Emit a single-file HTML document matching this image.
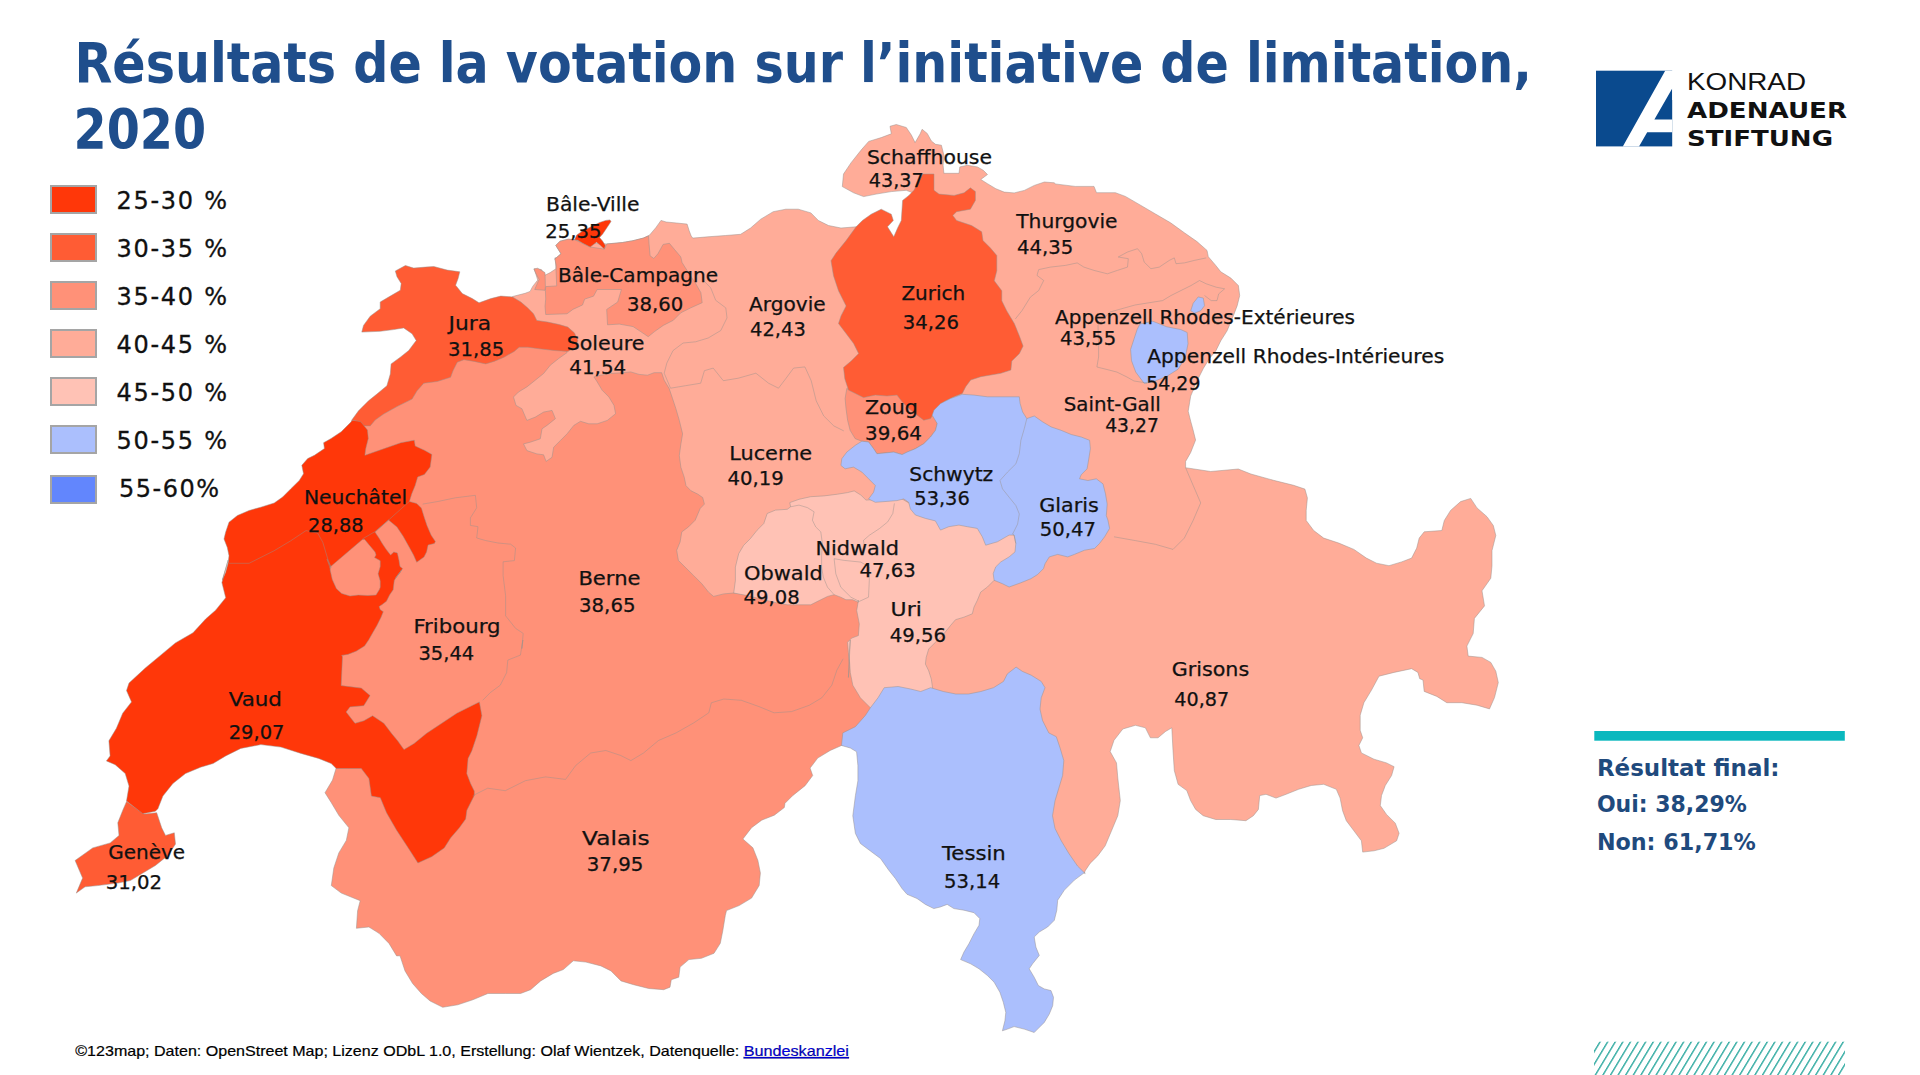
<!DOCTYPE html>
<html lang="fr"><head><meta charset="utf-8"><title>Résultats de la votation sur l’initiative de limitation, 2020</title>
<style>
html,body{margin:0;padding:0;background:#fff}
body{width:1920px;height:1075px;position:relative;overflow:hidden;font-family:"DejaVu Sans","Liberation Sans",sans-serif;}
svg{position:absolute;left:0;top:0}
.sw{position:absolute;left:50px;width:43.4px;height:24.6px;border:2.2px solid #a5a5a5}
</style></head><body>
<svg width="1920" height="1075" viewBox="0 0 1920 1075" style="position:absolute;left:0;top:0">
<path d="M512.6,296.5 L525.1,293.3 L530.1,291.4 L532.7,286.4 L537.7,280.1 L535.8,273.9 L533.9,268.8 L541.4,269.5 L545.2,275.1 L550.2,272.6 L555.9,268.8 L555.3,257.5 L554.8,259.0 L561.0,253.8 L555.8,245.4 L560.0,241.2 L568.3,239.2 L574.6,239.7 L590.2,243.3 L606.9,243.9 L614.2,243.3 L622.5,242.5 L632.9,240.7 L643.3,238.1 L649.6,235.0 L655.8,227.7 L661.0,220.4 L666.2,222.0 L676.7,223.0 L687.1,224.1 L689.2,230.8 L691.2,236.0 L692.8,238.1 L707.9,236.8 L725.5,235.5 L740.6,234.3 L750.6,228.0 L760.7,219.2 L773.2,211.7 L785.8,209.2 L798.3,209.2 L810.9,212.9 L818.4,220.5 L828.5,225.5 L841.0,228.0 L856.1,226.8 L871.2,233.0 L896.3,240.6 L903.8,225.5 L906.3,200.4 L912.6,192.8 L906.3,190.3 L891.3,191.6 L876.2,194.1 L863.6,196.6 L853.6,192.8 L842.3,186.6 L843.5,174.0 L851.1,162.7 L861.1,150.1 L868.7,141.4 L881.2,137.6 L891.3,133.8 L890.0,126.3 L896.3,124.5 L906.3,127.5 L911.4,135.1 L915.1,142.6 L920.2,133.8 L922.1,129.3 L927.2,133.4 L931.4,141.0 L935.5,144.3 L941.4,145.2 L943.9,155.2 L943.1,165.3 L943.9,173.3 L959.0,173.3 L959.8,166.9 L967.4,165.3 L977.4,166.9 L983.3,170.3 L987.5,174.5 L980.8,179.5 L987.5,183.7 L995.8,188.7 L1004.2,192.1 L1014.2,192.9 L1024.3,190.4 L1034.3,185.4 L1044.4,182.0 L1054.4,182.8 L1055.1,183.9 L1075.2,186.4 L1094.0,186.4 L1096.5,192.7 L1115.4,192.7 L1125.4,196.4 L1140.5,205.2 L1155.5,214.0 L1170.6,222.8 L1184.4,232.8 L1197.0,241.6 L1207.0,250.4 L1208.3,256.7 L1215.8,265.5 L1220.8,271.8 L1230.9,278.1 L1238.4,285.6 L1239.7,295.6 L1237.2,305.7 L1233.4,315.7 L1227.1,330.8 L1220.8,340.8 L1215.8,350.9 L1209.5,358.4 L1203.3,368.5 L1197.0,381.0 L1190.7,396.1 L1188.2,411.2 L1190.7,421.2 L1193.1,430.0 L1195.6,440.1 L1190.6,452.7 L1185.6,461.4 L1185.6,467.7 L1210.7,471.5 L1238.3,469.0 L1250.9,474.0 L1273.5,480.3 L1293.6,485.3 L1304.9,489.1 L1307.4,497.9 L1306.2,510.4 L1306.2,520.5 L1313.7,530.5 L1323.7,538.1 L1338.8,543.1 L1353.9,549.4 L1366.4,558.1 L1376.5,563.2 L1389.0,565.7 L1401.6,561.9 L1411.6,558.1 L1416.7,548.1 L1419.2,538.1 L1424.2,531.8 L1441.8,530.5 L1444.3,520.5 L1450.6,510.4 L1460.6,501.6 L1470.7,498.4 L1477.0,507.9 L1487.0,516.7 L1493.3,525.5 L1495.8,535.5 L1492.0,550.6 L1492.0,565.7 L1490.8,578.2 L1482.0,590.8 L1484.5,605.9 L1474.4,618.4 L1473.2,633.5 L1466.9,646.1 L1468.2,656.1 L1482.0,657.4 L1490.8,662.4 L1495.8,671.2 L1498.3,682.6 L1494.5,697.6 L1489.5,708.9 L1477.0,705.2 L1461.9,702.7 L1446.8,702.7 L1436.8,696.4 L1424.2,691.4 L1423.0,680.0 L1419.7,678.7 L1417.9,672.4 L1411.6,668.7 L1394.1,672.4 L1379.0,676.2 L1371.5,690.1 L1363.9,702.7 L1360.2,715.2 L1360.2,730.3 L1362.7,737.8 L1358.9,745.4 L1361.4,752.9 L1374.0,759.2 L1386.5,762.9 L1394.1,766.7 L1391.6,775.5 L1385.3,785.5 L1381.5,795.6 L1380.3,805.6 L1386.5,814.4 L1395.3,823.2 L1399.1,833.3 L1396.6,840.8 L1384.0,848.3 L1374.0,850.8 L1362.7,852.1 L1361.4,840.8 L1353.9,830.8 L1346.3,820.7 L1342.6,810.7 L1340.1,798.1 L1336.3,789.3 L1323.7,784.3 L1311.2,785.5 L1298.6,789.3 L1286.1,794.3 L1276.0,798.1 L1266.0,794.3 L1259.7,795.6 L1258.4,809.4 L1253.4,815.7 L1245.9,820.7 L1230.8,819.5 L1215.7,819.5 L1203.2,815.7 L1195.6,809.4 L1190.6,800.6 L1186.8,790.6 L1178.1,784.3 L1174.3,770.5 L1173.0,750.4 L1171.8,727.8 L1165.5,731.5 L1158.0,737.8 L1150.4,737.8 L1145.4,727.8 L1135.4,725.3 L1122.8,729.0 L1114.0,740.3 L1110.2,751.6 L1116.5,762.9 L1117.8,778.0 L1120.3,800.6 L1117.8,815.7 L1111.5,830.8 L1105.2,845.8 L1097.7,855.9 L1090.1,863.4 L1085.1,870.9 L1084.5,873.2 L1075.0,868.0 L950.0,750.0 L800.0,700.0 L650.0,620.0 L560.0,500.0 L460.0,400.0 L500.0,340.0Z" fill="#ffac98" stroke="#9a908c" stroke-opacity="0.55" stroke-width="0.9" stroke-linejoin="round"/>
<path d="M563.7,346.7 L567.1,352.6 L558.7,358.5 L550.3,365.2 L543.6,373.5 L535.3,380.2 L526.9,386.9 L518.5,392.0 L513.5,397.0 L516.0,405.4 L521.9,408.7 L526.9,420.4 L535.3,417.1 L543.6,412.1 L552.0,410.4 L555.4,418.7 L547.0,425.4 L542.0,428.8 L540.3,438.8 L530.2,442.2 L523.5,443.9 L526.9,450.6 L536.9,453.9 L543.6,454.8 L546.1,461.4 L552.0,457.3 L553.7,447.2 L560.4,440.5 L567.1,433.8 L573.8,425.4 L580.5,421.3 L588.8,423.8 L597.2,423.8 L607.3,420.4 L615.6,413.7 L614.0,405.4 L608.9,397.0 L602.2,390.3 L597.2,381.9 L593.9,376.9 L600.6,375.2 L610.6,373.5 L622.3,372.7 L630.7,371.9 L639.1,374.4 L647.5,375.2 L654.1,372.7 L661.7,372.7 L664.2,380.2 L669.2,388.6 L672.6,398.7 L675.9,408.7 L679.3,420.4 L682.6,433.8 L680.9,443.9 L679.3,455.6 L680.9,467.3 L684.3,477.4 L686.0,485.7 L691.0,490.8 L697.7,494.1 L702.7,497.5 L704.4,504.1 L700.2,508.5 L695.2,520.2 L688.5,526.9 L681.8,531.9 L680.1,542.0 L676.7,550.3 L678.4,560.4 L685.1,567.1 L693.5,575.4 L701.9,583.8 L708.6,592.2 L713.6,596.4 L723.6,593.9 L733.7,593.0 L800.0,600.0 L830.0,585.0 L870.0,590.0 L900.0,640.0 L880.0,720.0 L870.0,745.0 L841.5,745.5 L830.2,750.5 L817.7,758.1 L810.1,768.1 L812.7,775.6 L805.1,785.7 L792.6,795.7 L785.0,803.3 L784.3,807.6 L774.3,815.2 L761.7,820.2 L751.6,827.7 L742.9,839.0 L752.9,847.8 L757.9,860.4 L760.4,872.9 L759.2,885.5 L751.6,898.1 L739.1,905.6 L726.5,910.6 L725.3,915.6 L722.8,930.7 L720.3,943.3 L714.0,953.3 L701.4,958.3 L688.9,959.6 L680.1,967.1 L678.8,977.2 L671.3,979.7 L670.0,987.2 L663.7,989.7 L648.7,988.5 L633.6,984.7 L621.0,980.9 L611.0,970.9 L600.9,965.9 L585.9,962.1 L573.3,960.8 L563.3,969.6 L553.2,973.4 L540.7,980.9 L530.6,989.7 L520.6,993.5 L505.5,993.5 L487.9,993.5 L472.8,999.8 L457.8,1004.8 L442.7,1007.3 L430.1,1001.0 L421.4,993.5 L412.6,983.5 L405.0,970.9 L400.0,955.8 L396.6,955.9 L389.0,943.4 L379.0,933.3 L368.9,927.0 L356.4,928.3 L357.6,910.7 L360.2,900.7 L341.3,893.1 L331.3,885.6 L333.8,868.0 L338.8,852.9 L346.3,840.4 L348.9,827.8 L338.8,815.3 L331.3,802.7 L325.0,792.7 L332.5,780.1 L336.3,767.5 L340.0,700.0 L300.0,600.0 L340.0,500.0 L357.0,430.0 L365.0,415.0 L400.0,395.0 L440.0,375.0 L470.0,340.0Z" fill="#ff9178" stroke="#9a908c" stroke-opacity="0.55" stroke-width="0.9" stroke-linejoin="round"/>
<path d="M555.8,245.4 L561.0,253.8 L554.8,259.0 L556.4,266.2 L556.0,269.7 L556.7,285.9 L545.7,286.6 L545.4,290.3 L545.7,299.1 L545.0,306.4 L545.7,314.5 L567.0,313.8 L572.9,309.4 L582.5,305.0 L584.7,299.1 L593.5,296.2 L597.2,289.5 L621.4,289.5 L617.7,302.0 L606.7,309.4 L607.5,324.8 L619.3,324.1 L633.1,326.6 L640.7,331.6 L648.2,336.7 L654.5,331.6 L663.3,325.4 L673.3,320.3 L680.8,312.8 L690.9,307.8 L702.2,302.7 L700.9,292.7 L695.9,283.9 L688.4,272.6 L682.1,262.6 L680.8,256.9 L674.6,249.6 L669.4,243.3 L663.1,244.4 L657.9,253.8 L653.8,258.4 L650.1,255.8 L649.1,244.4 L648.5,236.0 L643.3,238.1 L632.9,240.7 L622.5,242.5 L614.2,243.3 L606.9,243.9 L604.3,249.1 L590.2,247.0 L574.6,239.7 L568.3,239.2 L560.0,241.2Z" fill="#ff9178" stroke="#9a908c" stroke-opacity="0.55" stroke-width="0.9" stroke-linejoin="round"/>
<path d="M534.0,269.0 L537.6,268.2 L545.0,272.6 L545.4,286.6 L545.0,290.3 L534.7,289.5 L536.9,284.4 L539.1,279.3 L536.2,274.1Z" fill="#ff9178" stroke="#9a908c" stroke-opacity="0.55" stroke-width="0.9" stroke-linejoin="round"/>
<path d="M846.8,388.4 L853.5,391.8 L863.5,395.1 L875.3,393.4 L887.0,394.3 L897.0,393.4 L902.1,400.1 L908.7,406.8 L917.1,413.5 L923.8,418.6 L930.5,417.7 L933.9,414.4 L937.2,423.6 L935.5,430.3 L930.5,437.0 L923.8,443.7 L915.4,448.7 L907.1,452.1 L902.1,454.6 L893.7,452.1 L885.3,452.9 L876.9,453.7 L873.6,448.7 L868.6,442.0 L861.9,441.2 L855.2,438.7 L850.1,430.3 L847.6,420.2 L846.0,408.5 L845.1,398.5Z" fill="#ff9178" stroke="#9a908c" stroke-opacity="0.55" stroke-width="0.9" stroke-linejoin="round"/>
<path d="M395.3,271.0 L405.4,265.5 L413.7,268.1 L425.4,267.1 L433.8,266.5 L447.2,270.1 L459.8,271.8 L458.1,278.5 L455.6,285.2 L462.3,293.6 L472.3,298.6 L479.0,302.8 L490.8,298.6 L500.8,296.1 L512.5,296.9 L520.9,302.0 L527.6,307.8 L533.5,313.7 L536.8,320.4 L547.7,322.1 L559.4,324.6 L567.8,327.1 L574.5,332.9 L577.8,340.5 L576.2,347.2 L567.8,351.4 L554.4,350.5 L539.3,348.8 L527.6,347.2 L519.2,347.2 L514.2,351.4 L504.1,357.2 L494.1,361.4 L485.7,363.9 L474.0,361.4 L464.0,359.7 L457.3,362.2 L453.1,370.6 L450.6,377.3 L437.2,381.5 L423.8,383.2 L417.1,390.7 L412.1,399.1 L397.0,406.6 L383.6,414.1 L375.2,420.0 L370.2,425.9 L350.1,425.9 L351.8,420.0 L358.5,410.8 L368.5,400.8 L376.9,394.1 L386.9,385.7 L390.3,374.0 L391.1,363.9 L400.3,357.2 L408.7,350.5 L416.2,340.5 L412.1,333.8 L403.7,327.9 L393.6,329.6 L380.2,331.3 L361.8,332.1 L363.5,325.4 L370.2,316.2 L380.2,308.7 L380.2,302.0 L390.3,296.1 L400.3,290.2 L401.2,283.5 L397.0,276.8Z" fill="#ff5c34" stroke="#9a908c" stroke-opacity="0.55" stroke-width="0.9" stroke-linejoin="round"/>
<path d="M856.1,226.8 L862.4,220.5 L871.2,214.2 L881.2,209.2 L891.3,214.2 L893.3,220.5 L887.5,226.8 L893.8,236.8 L897.6,228.0 L901.3,220.5 L902.6,200.4 L908.9,195.4 L913.9,190.3 L922.7,174.0 L934.0,174.0 L934.0,190.3 L939.0,194.1 L954.1,195.4 L964.1,192.8 L970.4,187.8 L975.4,191.6 L975.4,200.4 L970.4,209.2 L956.6,211.7 L952.8,215.4 L956.6,220.5 L971.6,225.5 L981.7,231.8 L983.0,240.6 L990.5,248.1 L996.8,255.6 L996.8,270.7 L994.3,280.8 L1001.8,290.8 L1001.8,300.8 L1006.8,310.9 L1014.3,323.5 L1019.4,336.0 L1023.1,346.1 L1019.4,353.6 L1011.8,361.1 L1010.9,370.0 L1000.8,373.3 L990.8,375.0 L980.8,376.7 L970.7,380.0 L965.7,386.7 L962.3,393.4 L954.0,396.8 L943.9,401.8 L935.5,410.2 L930.5,418.6 L923.8,420.2 L917.1,415.2 L908.7,408.5 L902.1,401.8 L897.0,395.1 L887.0,396.0 L875.3,395.1 L863.5,397.6 L848.5,390.1 L844.8,378.7 L843.5,367.4 L851.1,361.1 L858.6,353.6 L853.6,343.5 L846.1,333.5 L838.5,323.5 L841.0,315.9 L846.1,305.9 L838.5,290.8 L833.5,275.7 L831.0,260.7 L836.0,253.1 L846.1,240.6Z" fill="#ff5c34" stroke="#9a908c" stroke-opacity="0.55" stroke-width="0.9" stroke-linejoin="round"/>
<path d="M126.6,801.4 L144.1,814.0 L156.7,812.7 L161.7,827.8 L165.5,835.4 L174.3,832.8 L175.5,844.1 L168.0,855.4 L155.4,865.5 L142.9,873.0 L130.3,880.6 L117.8,883.1 L97.7,885.6 L85.1,886.8 L76.3,893.1 L82.6,878.1 L75.1,860.5 L92.7,847.9 L110.2,842.9 L119.0,835.4 L117.8,822.8 L122.8,810.2Z" fill="#ff5c34" stroke="#9a908c" stroke-opacity="0.55" stroke-width="0.9" stroke-linejoin="round"/>
<path d="M352.9,420.1 L341.2,431.8 L331.1,438.5 L323.6,442.7 L324.4,448.6 L314.4,455.3 L307.7,458.6 L301.8,465.3 L303.5,473.7 L299.3,480.4 L290.9,488.7 L282.6,497.1 L274.2,503.0 L260.8,507.2 L249.1,510.5 L237.4,515.5 L229.0,522.2 L225.6,532.3 L224.0,539.0 L227.3,547.4 L229.0,555.7 L228.1,563.3 L225.6,572.5 L222.3,580.0 L228.2,560.0 L221.9,582.6 L225.7,597.7 L215.6,610.2 L205.6,619.0 L193.0,632.8 L175.4,642.9 L160.4,655.4 L145.3,668.0 L129.0,683.1 L126.5,690.6 L131.5,701.9 L122.7,713.2 L116.4,728.3 L108.9,740.8 L110.1,755.9 L106.4,760.9 L115.2,764.7 L125.2,773.5 L129.0,786.1 L126.5,801.1 L142.8,813.7 L155.4,811.2 L157.9,808.7 L162.9,796.1 L172.9,783.5 L185.5,773.5 L200.6,767.2 L213.1,763.5 L225.7,755.9 L240.8,748.4 L260.8,744.6 L280.9,747.1 L301.0,753.4 L318.6,758.4 L331.2,763.5 L336.2,768.5 L348.8,768.5 L361.3,768.5 L368.9,778.5 L371.4,796.1 L380.3,797.7 L386.5,812.7 L396.6,830.3 L406.6,845.4 L417.9,863.0 L431.7,856.7 L444.3,847.9 L450.6,837.9 L459.4,827.8 L465.7,819.0 L466.9,810.2 L474.4,795.2 L474.3,791.1 L470.6,783.5 L466.8,773.5 L468.1,758.4 L471.8,750.9 L476.9,735.8 L481.9,715.7 L479.4,701.9 L471.8,705.7 L456.8,713.2 L441.7,723.3 L426.6,733.3 L414.1,743.4 L404.0,749.6 L397.7,740.8 L391.5,733.3 L383.9,723.3 L372.6,715.7 L363.8,720.8 L355.0,723.3 L346.2,712.0 L350.0,706.9 L363.8,705.7 L370.1,695.6 L361.3,688.1 L341.2,685.6 L342.5,656.7 L341.7,655.4 L347.9,654.4 L356.2,651.2 L364.6,646.0 L368.8,639.8 L372.9,632.5 L377.1,625.2 L381.2,616.9 L383.3,611.7 L380.2,609.6 L379.2,606.5 L382.3,604.4 L386.5,601.2 L389.6,595.0 L393.2,589.8 L394.3,580.4 L396.9,576.2 L401.6,570.0 L395.8,577.9 L400.0,572.7 L402.6,568.5 L400.0,566.5 L399.0,560.2 L397.4,552.9 L393.8,551.9 L390.6,555.0 L386.5,549.8 L382.3,543.5 L379.2,538.3 L375.0,532.1 L388.5,520.1 L396.9,526.9 L403.1,536.2 L408.3,545.6 L413.5,555.0 L416.7,562.3 L424.0,557.1 L426.6,551.9 L428.1,545.1 L434.4,543.5 L435.4,541.5 L431.2,535.2 L427.1,525.8 L424.0,516.5 L421.4,508.1 L416.7,503.4 L409.4,501.4 L411.8,493.8 L415.2,485.4 L417.7,477.0 L424.4,474.5 L430.2,467.0 L431.9,454.4 L424.4,450.2 L415.2,446.0 L414.3,440.2 L400.9,442.7 L384.2,448.6 L364.9,455.3 L365.8,448.6 L368.3,438.5 L367.5,430.1 L360.8,421.8 L352.4,420.1Z" fill="#ff3709" stroke="#9a908c" stroke-opacity="0.55" stroke-width="0.9" stroke-linejoin="round"/>
<path d="M330.2,567.0 L362.5,539.4 L364.6,539.4 L368.8,544.6 L375.0,551.9 L376.0,555.0 L374.5,557.6 L380.2,560.7 L380.2,566.5 L378.1,573.8 L380.2,581.0 L380.2,587.3 L379.2,589.8 L376.0,595.0 L367.7,595.5 L358.3,595.0 L350.0,596.0 L341.7,593.4 L336.5,588.8 L332.3,579.4 L330.2,570.0Z" fill="#ff9178" stroke="#9a908c" stroke-opacity="0.55" stroke-width="0.9" stroke-linejoin="round"/>
<path d="M610.0,219.9 L611.0,221.5 L606.9,227.7 L602.7,234.0 L599.6,237.6 L602.7,241.2 L605.3,245.4 L604.3,249.1 L600.6,245.4 L596.5,242.3 L590.2,247.0 L582.9,243.3 L577.7,240.2 L574.6,239.7 L576.7,235.0 L582.9,230.8 L591.2,226.7 L599.6,222.5 L605.8,220.4Z" fill="#ff3709" stroke="#9a908c" stroke-opacity="0.55" stroke-width="0.9" stroke-linejoin="round"/>
<path d="M733.7,593.0 L735.4,580.5 L735.4,567.1 L738.7,553.7 L743.7,545.3 L750.4,538.6 L757.1,530.2 L763.8,523.5 L767.2,513.5 L775.5,510.1 L787.3,509.3 L790.6,506.8 L789.8,502.6 L799.0,499.3 L810.7,496.7 L824.1,495.9 L837.5,494.2 L847.5,492.6 L854.2,490.9 L860.9,495.1 L866.0,500.1 L877.7,499.3 L891.1,500.1 L901.1,498.4 L909.5,503.4 L912.9,510.1 L922.9,513.5 L932.9,518.5 L943.0,525.2 L950.0,515.0 L975.0,515.0 L985.7,541.8 L997.4,538.5 L1009.1,531.8 L1017.5,533.4 L1019.2,543.5 L1017.5,553.5 L1009.1,560.2 L1000.8,565.3 L997.4,573.6 L997.4,580.3 L994.1,580.3 L987.4,587.0 L980.7,592.1 L977.3,600.4 L974.0,607.1 L972.3,613.8 L963.9,617.2 L955.5,619.7 L950.5,625.5 L943.8,633.9 L935.4,642.3 L928.7,649.0 L926.2,657.4 L925.4,664.1 L928.7,670.8 L931.3,679.1 L932.9,690.0 L932.0,690.2 L905.6,697.8 L875.4,710.3 L870.4,707.8 L860.4,697.8 L852.8,685.2 L850.3,672.7 L849.1,655.1 L850.3,640.0 L848.4,677.5 L849.2,664.1 L848.4,652.3 L847.5,642.3 L851.7,638.1 L858.4,635.6 L859.3,623.9 L856.7,610.5 L858.4,600.4 L858.4,602.2 L852.6,599.7 L845.9,599.7 L840.8,597.2 L834.1,594.7 L827.5,596.4 L819.1,600.6 L810.7,604.8 L799.0,604.8 L787.3,604.8 L773.9,602.2 L760.5,598.9 L747.1,595.5Z" fill="#ffc2b5" stroke="#9a908c" stroke-opacity="0.55" stroke-width="0.9" stroke-linejoin="round"/>
<path d="M933.9,410.2 L940.6,403.5 L950.6,398.5 L962.3,394.3 L974.1,395.1 L987.5,396.8 L1004.2,396.8 L1019.3,396.8 L1020.1,403.5 L1022.6,411.9 L1026.8,418.6 L1034.3,416.0 L1042.7,421.9 L1051.1,426.9 L1061.1,430.3 L1071.2,434.5 L1081.2,437.0 L1089.6,440.3 L1090.4,448.7 L1088.8,458.7 L1087.1,468.8 L1081.2,474.7 L1079.5,478.8 L1087.9,480.5 L1096.3,478.8 L1103.0,483.9 L1105.5,493.9 L1107.2,504.0 L1106.3,515.7 L1107.9,520.0 L1109.6,528.4 L1104.6,536.8 L1099.5,543.5 L1094.5,548.5 L1084.5,550.2 L1074.4,554.4 L1067.7,556.9 L1057.7,554.4 L1049.3,556.9 L1045.1,563.6 L1043.5,568.6 L1037.6,574.5 L1030.9,578.7 L1020.8,582.8 L1009.1,587.0 L1002.4,583.7 L994.1,580.3 L993.2,573.6 L995.7,566.9 L1000.8,561.9 L1009.1,556.9 L1015.0,551.9 L1015.8,543.5 L1014.1,535.1 L1009.1,535.1 L997.4,541.8 L985.7,545.2 L982.3,536.8 L977.3,528.4 L967.3,526.7 L958.9,525.1 L948.8,526.7 L940.5,530.1 L935.4,520.9 L925.4,518.4 L915.4,515.0 L910.4,509.0 L908.7,502.3 L903.7,498.9 L897.0,500.6 L887.0,501.4 L875.3,502.3 L868.6,498.9 L873.6,492.2 L875.3,485.5 L868.6,478.8 L861.9,472.1 L853.5,467.1 L845.1,468.8 L840.9,465.4 L841.8,458.7 L846.8,452.1 L855.2,445.4 L861.9,441.2 L868.6,442.0 L873.6,448.7 L876.9,453.7 L885.3,452.9 L893.7,452.1 L902.1,454.6 L907.1,452.1 L915.4,448.7 L923.8,443.7 L930.5,437.0 L935.5,430.3 L937.2,423.6 L932.2,415.2Z" fill="#abbffd" stroke="#9a908c" stroke-opacity="0.55" stroke-width="0.9" stroke-linejoin="round"/>
<path d="M884.2,687.7 L898.1,686.5 L910.6,689.0 L920.7,691.5 L930.7,687.7 L943.3,691.5 L955.8,694.0 L968.4,694.0 L980.9,691.5 L993.5,687.7 L1003.5,681.4 L1007.3,673.9 L1016.1,667.1 L1022.4,671.4 L1031.2,675.2 L1041.2,681.4 L1045.0,687.7 L1041.2,697.8 L1040.0,709.1 L1042.5,720.4 L1048.8,732.9 L1056.3,736.7 L1060.1,748.0 L1063.8,760.6 L1062.6,775.6 L1058.8,788.2 L1055.0,800.8 L1052.5,815.8 L1055.0,828.4 L1061.3,840.9 L1068.9,853.5 L1077.6,866.1 L1085.2,873.6 L1084.5,872.6 L1074.4,880.1 L1064.4,890.1 L1057.7,900.2 L1056.8,910.2 L1054.3,920.3 L1047.6,927.0 L1039.3,932.0 L1034.2,937.0 L1035.9,947.1 L1039.3,955.4 L1032.6,963.8 L1029.2,968.8 L1034.2,977.2 L1038.4,985.6 L1044.3,988.9 L1051.0,990.6 L1053.5,997.3 L1052.7,1005.7 L1049.3,1014.1 L1044.3,1022.4 L1037.6,1029.1 L1034.2,1032.5 L1024.2,1029.1 L1014.1,1026.6 L1007.5,1029.1 L1002.4,1030.8 L1004.9,1020.8 L1005.8,1012.4 L1003.3,1002.3 L999.9,992.3 L994.1,982.2 L987.4,975.5 L979.0,968.8 L970.6,963.8 L960.6,959.6 L963.9,952.1 L968.9,943.7 L974.0,933.7 L979.0,925.3 L979.8,918.6 L974.0,912.7 L963.9,910.2 L953.9,908.6 L947.2,904.4 L940.5,906.9 L933.8,908.6 L925.4,904.4 L917.0,898.5 L907.0,894.3 L902.0,888.5 L895.3,878.4 L888.6,870.0 L880.5,858.5 L870.4,851.0 L860.4,843.5 L855.4,833.4 L852.8,815.8 L855.4,795.7 L857.9,780.7 L857.9,765.6 L856.6,751.8 L850.3,748.0 L841.5,745.5 L842.8,732.9 L855.4,726.7 L865.4,715.4 L870.4,707.8 L878.0,697.8Z" fill="#abbffd" stroke="#9a908c" stroke-opacity="0.55" stroke-width="0.9" stroke-linejoin="round"/>
<path d="M1139.9,324.0 L1152.7,321.2 L1166.8,326.8 L1180.9,329.6 L1187.2,332.5 L1188.0,343.8 L1185.2,357.9 L1178.1,369.2 L1166.8,376.3 L1152.7,381.9 L1144.2,383.4 L1135.7,372.0 L1131.5,360.7 L1130.6,349.4 L1134.3,338.1 L1137.1,329.6Z" fill="#abbffd" stroke="#9a908c" stroke-opacity="0.55" stroke-width="0.9" stroke-linejoin="round"/>
<path d="M1198.2,296.9 L1203.3,298.1 L1204.5,305.7 L1200.8,310.7 L1194.5,313.2 L1190.7,310.7 L1193.2,303.2Z" fill="#abbffd" stroke="#9a908c" stroke-opacity="0.55" stroke-width="0.9" stroke-linejoin="round"/>
<path d="M229.0,563.3 L249.1,563.3 L274.2,550.7 L290.9,540.7 L306.0,530.6 L317.7,533.1 L322.8,542.3 L327.8,559.1 L331.1,567.5 L327.1,559.2 L330.2,568.5" fill="none" stroke="#9a908c" stroke-opacity="0.5" stroke-width="0.9" stroke-linejoin="round"/>
<path d="M362.5,538.9 L375.0,531.6 L388.5,520.1 L409.4,501.4" fill="none" stroke="#9a908c" stroke-opacity="0.5" stroke-width="0.9" stroke-linejoin="round"/>
<path d="M1026.8,418.6 L1024.3,428.6 L1020.9,440.3 L1019.3,453.7 L1015.9,463.8 L1007.5,472.1 L1000.0,480.5 L1002.5,488.9 L1009.2,497.3 L1015.9,505.6 L1019.3,514.0 L1017.6,524.1 L1012.6,534.1 L1014.1,535.1 L1015.8,543.5" fill="none" stroke="#9a908c" stroke-opacity="0.5" stroke-width="0.9" stroke-linejoin="round"/>
<path d="M703.2,280.2 L710.7,287.8 L715.7,300.3 L725.8,307.9 L727.0,317.9 L720.8,330.5 L708.2,338.0 L695.6,341.8 L683.1,343.0 L673.0,350.6 L666.8,363.1 L664.2,373.2 L670.5,388.2" fill="none" stroke="#9a908c" stroke-opacity="0.5" stroke-width="0.9" stroke-linejoin="round"/>
<path d="M670.5,388.2 L685.6,385.7 L700.7,383.2 L704.4,370.7 L713.2,368.1 L723.3,380.7 L738.3,378.2 L755.9,373.2 L768.5,383.2 L778.5,388.2 L786.1,378.2 L793.6,368.1 L804.9,366.9 L811.2,380.7 L816.2,400.8 L823.7,415.9 L833.8,425.9 L843.8,430.9" fill="none" stroke="#9a908c" stroke-opacity="0.5" stroke-width="0.9" stroke-linejoin="round"/>
<path d="M1015.3,319.0 L1022.0,310.6 L1030.3,297.2 L1038.7,290.5 L1043.7,280.5 L1037.0,275.4 L1038.7,269.6 L1050.4,267.1 L1065.5,265.4 L1077.2,262.9 L1083.9,267.1 L1094.0,270.4 L1107.4,273.8 L1117.4,270.4 L1127.5,267.1 L1128.3,258.7 L1118.2,257.0 L1127.5,252.0 L1137.5,248.7 L1141.7,253.7 L1144.2,262.1 L1150.9,268.7 L1159.3,267.1 L1169.3,260.4 L1174.3,257.9 L1176.0,263.7 L1184.4,262.9 L1194.4,260.4 L1206.2,257.9" fill="none" stroke="#9a908c" stroke-opacity="0.5" stroke-width="0.9" stroke-linejoin="round"/>
<path d="M1147.0,383.0 L1134.0,381.0 L1127.1,377.1 L1117.0,372.1 L1107.0,369.5 L1096.9,367.0 L1098.6,357.0 L1098.6,345.3 L1098.0,325.0 L1110.0,312.0 L1135.0,305.0 L1162.6,300.6 L1171.0,295.5 L1181.0,290.5 L1191.1,285.5 L1199.5,280.5 L1206.2,283.8 L1216.2,287.2 L1224.6,288.8 L1218.7,293.9 L1217.0,300.6 L1211.2,300.6 L1204.5,295.5" fill="none" stroke="#9a908c" stroke-opacity="0.5" stroke-width="0.9" stroke-linejoin="round"/>
<path d="M1185.6,467.7 L1193.1,485.3 L1200.7,502.9 L1193.1,520.5 L1184.3,538.1 L1173.0,549.4 L1155.4,544.3 L1135.4,540.6 L1114.0,536.8" fill="none" stroke="#9a908c" stroke-opacity="0.5" stroke-width="0.9" stroke-linejoin="round"/>
<path d="M422.7,504.1 L437.8,501.5 L455.4,497.8 L475.4,495.3 L476.7,507.8 L470.4,517.9 L470.4,525.4 L478.0,526.7 L476.7,538.0 L485.5,540.5 L498.1,543.0 L510.6,544.2 L515.6,548.0 L514.4,560.6 L503.1,561.8 L503.1,575.6 L505.6,595.7 L505.6,615.8 L515.6,628.4 L523.2,633.4 L521.9,648.5 L522.9,640.0 L520.4,655.1 L507.8,660.1 L506.6,672.7 L500.3,685.2 L490.2,692.7 L482.7,700.3" fill="none" stroke="#9a908c" stroke-opacity="0.5" stroke-width="0.9" stroke-linejoin="round"/>
<path d="M472.7,795.7 L487.7,788.2 L505.3,790.7 L525.4,780.7 L545.5,776.9 L565.6,779.4 L575.6,765.6 L590.7,753.0 L605.8,750.5 L620.8,755.5 L630.9,760.6 L643.5,753.0 L658.5,740.5 L676.1,732.9 L693.7,722.9 L708.8,712.8 L711.3,702.8 L723.8,699.0 L741.4,700.3 L759.0,706.6 L774.1,712.8 L791.6,711.6 L809.2,705.3 L821.8,697.8 L831.8,685.2 L836.9,670.1 L843.1,658.8" fill="none" stroke="#9a908c" stroke-opacity="0.5" stroke-width="0.9" stroke-linejoin="round"/>
<path d="M790.6,506.8 L799.0,505.1 L807.4,507.6 L814.1,511.8 L812.4,520.2 L815.7,526.9 L820.8,531.9 L822.4,543.6 L821.6,555.4 L821.6,567.1 L823.3,577.1 L827.5,587.2 L834.1,594.7" fill="none" stroke="#9a908c" stroke-opacity="0.5" stroke-width="0.9" stroke-linejoin="round"/>
<path d="M894.4,503.4 L892.8,513.5 L887.7,521.9 L879.4,528.6 L869.3,535.3 L863.5,540.3 L864.3,547.0" fill="none" stroke="#9a908c" stroke-opacity="0.5" stroke-width="0.9" stroke-linejoin="round"/>
<path d="M834.1,558.7 L844.2,560.4 L860.9,562.1 L869.3,567.1 L869.3,580.5 L868.5,597.2 L859.3,601.4 L850.9,597.2 L840.8,587.2 L835.8,573.8 L834.1,558.7" fill="none" stroke="#9a908c" stroke-opacity="0.5" stroke-width="0.9" stroke-linejoin="round"/>
<g font-family="'DejaVu Sans','Liberation Sans',sans-serif" font-size="18.8" fill="#111" stroke="#111" stroke-width="0.25">
<text x="546.0" y="211.4" textLength="93.5" lengthAdjust="spacingAndGlyphs">Bâle-Ville</text>
<text x="545.2" y="237.8" textLength="56.2" lengthAdjust="spacingAndGlyphs">25,35</text>
<text x="558.0" y="281.8" textLength="160.2" lengthAdjust="spacingAndGlyphs">Bâle-Campagne</text>
<text x="626.9" y="310.7" textLength="56.3" lengthAdjust="spacingAndGlyphs">38,60</text>
<text x="448.5" y="330.0" textLength="42.5" lengthAdjust="spacingAndGlyphs">Jura</text>
<text x="448.0" y="355.9" textLength="56.2" lengthAdjust="spacingAndGlyphs">31,85</text>
<text x="566.7" y="349.6" textLength="77.8" lengthAdjust="spacingAndGlyphs">Soleure</text>
<text x="569.3" y="373.5" textLength="56.9" lengthAdjust="spacingAndGlyphs">41,54</text>
<text x="749.0" y="310.5" textLength="76.7" lengthAdjust="spacingAndGlyphs">Argovie</text>
<text x="750.0" y="335.7" textLength="55.8" lengthAdjust="spacingAndGlyphs">42,43</text>
<text x="866.9" y="164.0" textLength="125.1" lengthAdjust="spacingAndGlyphs">Schaffhouse</text>
<text x="868.7" y="187.3" textLength="55.0" lengthAdjust="spacingAndGlyphs">43,37</text>
<text x="901.4" y="300.4" textLength="63.8" lengthAdjust="spacingAndGlyphs">Zurich</text>
<text x="902.7" y="329.0" textLength="56.2" lengthAdjust="spacingAndGlyphs">34,26</text>
<text x="1016.2" y="228.0" textLength="101.3" lengthAdjust="spacingAndGlyphs">Thurgovie</text>
<text x="1016.9" y="254.4" textLength="56.3" lengthAdjust="spacingAndGlyphs">44,35</text>
<text x="1055.0" y="323.8" textLength="300.0" lengthAdjust="spacingAndGlyphs">Appenzell Rhodes-Extérieures</text>
<text x="1060.1" y="345.4" textLength="56.1" lengthAdjust="spacingAndGlyphs">43,55</text>
<text x="1147.2" y="363.0" textLength="297.0" lengthAdjust="spacingAndGlyphs">Appenzell Rhodes-Intérieures</text>
<text x="1146.2" y="389.9" textLength="54.3" lengthAdjust="spacingAndGlyphs">54,29</text>
<text x="1063.7" y="410.5" textLength="97.1" lengthAdjust="spacingAndGlyphs">Saint-Gall</text>
<text x="1105.2" y="432.0" textLength="53.7" lengthAdjust="spacingAndGlyphs">43,27</text>
<text x="1171.7" y="676.3" textLength="77.5" lengthAdjust="spacingAndGlyphs">Grisons</text>
<text x="1174.3" y="706.4" textLength="54.9" lengthAdjust="spacingAndGlyphs">40,87</text>
<text x="942.0" y="859.8" textLength="63.8" lengthAdjust="spacingAndGlyphs">Tessin</text>
<text x="944.0" y="887.5" textLength="56.2" lengthAdjust="spacingAndGlyphs">53,14</text>
<text x="582.1" y="844.8" textLength="67.6" lengthAdjust="spacingAndGlyphs">Valais</text>
<text x="586.7" y="871.0" textLength="56.7" lengthAdjust="spacingAndGlyphs">37,95</text>
<text x="228.7" y="706.2" textLength="53.2" lengthAdjust="spacingAndGlyphs">Vaud</text>
<text x="228.7" y="738.9" textLength="55.8" lengthAdjust="spacingAndGlyphs">29,07</text>
<text x="413.4" y="632.9" textLength="87.1" lengthAdjust="spacingAndGlyphs">Fribourg</text>
<text x="418.4" y="660.0" textLength="55.8" lengthAdjust="spacingAndGlyphs">35,44</text>
<text x="108.2" y="858.7" textLength="77.0" lengthAdjust="spacingAndGlyphs">Genève</text>
<text x="105.7" y="889.4" textLength="56.5" lengthAdjust="spacingAndGlyphs">31,02</text>
<text x="303.9" y="503.9" textLength="103.2" lengthAdjust="spacingAndGlyphs">Neuchâtel</text>
<text x="308.1" y="532.3" textLength="55.5" lengthAdjust="spacingAndGlyphs">28,88</text>
<text x="578.4" y="585.0" textLength="62.1" lengthAdjust="spacingAndGlyphs">Berne</text>
<text x="579.0" y="612.1" textLength="56.5" lengthAdjust="spacingAndGlyphs">38,65</text>
<text x="729.2" y="459.6" textLength="83.0" lengthAdjust="spacingAndGlyphs">Lucerne</text>
<text x="727.4" y="485.2" textLength="56.3" lengthAdjust="spacingAndGlyphs">40,19</text>
<text x="865.0" y="414.1" textLength="52.8" lengthAdjust="spacingAndGlyphs">Zoug</text>
<text x="865.0" y="439.7" textLength="57.0" lengthAdjust="spacingAndGlyphs">39,64</text>
<text x="909.3" y="480.7" textLength="83.9" lengthAdjust="spacingAndGlyphs">Schwytz</text>
<text x="914.3" y="505.3" textLength="55.5" lengthAdjust="spacingAndGlyphs">53,36</text>
<text x="1039.2" y="512.0" textLength="59.5" lengthAdjust="spacingAndGlyphs">Glaris</text>
<text x="1039.7" y="535.5" textLength="56.2" lengthAdjust="spacingAndGlyphs">50,47</text>
<text x="815.5" y="554.8" textLength="83.4" lengthAdjust="spacingAndGlyphs">Nidwald</text>
<text x="859.5" y="577.4" textLength="56.3" lengthAdjust="spacingAndGlyphs">47,63</text>
<text x="743.9" y="580.0" textLength="78.9" lengthAdjust="spacingAndGlyphs">Obwald</text>
<text x="743.4" y="603.8" textLength="56.3" lengthAdjust="spacingAndGlyphs">49,08</text>
<text x="890.6" y="616.4" textLength="31.2" lengthAdjust="spacingAndGlyphs">Uri</text>
<text x="889.7" y="642.3" textLength="56.4" lengthAdjust="spacingAndGlyphs">49,56</text>
</g>
</svg>
<div class="sw" style="top:185px;background:#ff3709"></div>
<div class="sw" style="top:233px;background:#ff5c34"></div>
<div class="sw" style="top:281px;background:#ff9178"></div>
<div class="sw" style="top:329px;background:#ffac98"></div>
<div class="sw" style="top:377px;background:#ffc2b5"></div>
<div class="sw" style="top:425px;background:#abbffd"></div>
<div class="sw" style="top:475px;background:#6286fd"></div>
<svg width="1920" height="1075" viewBox="0 0 1920 1075">
<defs><pattern id="hatch" x="1594.4" y="1041.9" width="7.6" height="12" patternUnits="userSpaceOnUse" patternTransform="skewX(-31)"><rect x="0" y="0" width="1.7" height="12" fill="#3aaea5"/></pattern></defs>
<g font-family="'DejaVu Sans Condensed','DejaVu Sans','Liberation Sans',sans-serif" font-weight="bold" font-size="56" fill="#1f4e8c">
<text x="74.5" y="81.8" textLength="1457.5" lengthAdjust="spacingAndGlyphs">Résultats de la votation sur l’initiative de limitation,</text>
<text x="73.5" y="147.5" textLength="132.5" lengthAdjust="spacingAndGlyphs">2020</text>
</g>
<g font-family="'DejaVu Sans','Liberation Sans',sans-serif" font-size="24" fill="#111" stroke="#111" stroke-width="0.3">
<text x="116.4" y="208.5" textLength="110.6">25-30 %</text>
<text x="116.4" y="256.5" textLength="110.6">30-35 %</text>
<text x="116.4" y="304.5" textLength="110.6">35-40 %</text>
<text x="116.4" y="352.5" textLength="110.6">40-45 %</text>
<text x="116.4" y="400.5" textLength="110.6">45-50 %</text>
<text x="116.4" y="448.5" textLength="110.6">50-55 %</text>
<text x="119" y="497" textLength="100">55-60%</text>
</g>
<!-- logo -->
<rect x="1596" y="70.7" width="76.2" height="75.7" fill="#0a4a8e"/>
<polygon points="1665.2,70.7 1680,70.7 1680,100 1672.2,100 1672.2,88.6 1654.4,119.5 1672.2,119.5 1672.2,132.2 1647.2,132.2 1639,146.4 1622.8,146.4" fill="#fff"/>
<g font-family="'DejaVu Sans','Liberation Sans',sans-serif" font-size="22" fill="#111">
<text x="1687" y="90.3" textLength="119" lengthAdjust="spacingAndGlyphs" font-family="'Liberation Sans','DejaVu Sans',sans-serif" font-size="23.5">KONRAD</text>
<text x="1687" y="117.9" textLength="160" lengthAdjust="spacingAndGlyphs" font-weight="bold">ADENAUER</text>
<text x="1687" y="145.5" textLength="146" lengthAdjust="spacingAndGlyphs" font-weight="bold">STIFTUNG</text>
</g>
<!-- result -->
<rect x="1594.3" y="731" width="250.5" height="9.7" fill="#0ab8be"/>
<g font-family="'DejaVu Sans','Liberation Sans',sans-serif" font-weight="bold" font-size="23" fill="#1f4a7d">
<text x="1596.9" y="776.2" textLength="182.6" lengthAdjust="spacingAndGlyphs">Résultat final:</text>
<text x="1596.9" y="812.4" textLength="150" lengthAdjust="spacingAndGlyphs">Oui: 38,29%</text>
<text x="1596.9" y="849.9" textLength="159" lengthAdjust="spacingAndGlyphs">Non: 61,71%</text>
</g>
<rect x="1594" y="1041.7" width="251" height="34" fill="url(#hatch)"/>
<g font-family="'Liberation Sans','DejaVu Sans',sans-serif" font-size="14.6" fill="#000" stroke="#000" stroke-width="0.2">
<text x="75.3" y="1056" textLength="664" lengthAdjust="spacingAndGlyphs">©123map; Daten: OpenStreet Map; Lizenz ODbL 1.0, Erstellung: Olaf Wientzek, Datenquelle:</text>
<text x="743.7" y="1056" textLength="105.3" lengthAdjust="spacingAndGlyphs" fill="#0000e6" text-decoration="underline">Bundeskanzlei</text>
</g>
</svg>
</body></html>
